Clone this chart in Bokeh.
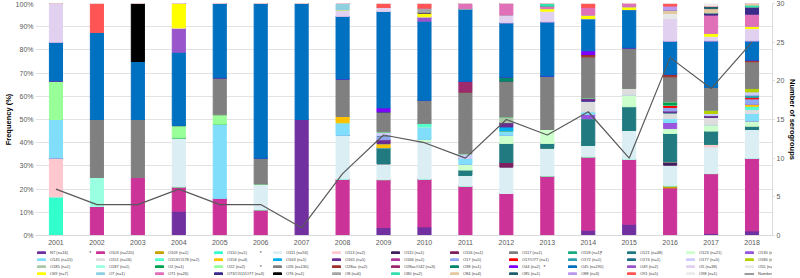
from bokeh.plotting import figure
from bokeh.layouts import column
from bokeh.models import (Range1d, LinearAxis, FixedTicker, PrintfTickFormatter,
                          Legend, LegendItem, ColumnDataSource)
from bokeh.core.properties import value
from bokeh.embed import file_html
from bokeh.resources import INLINE

years = list(range(2001, 2019))

serogroups = ["NT", "O103", "O109", "O110", "O111", "O113", "O115", "O116", "O117", "O118",
              "O121", "O123", "O130", "O145", "O151", "O153/O178", "O156", "O163", "O165", "O166",
              "O17", "O17/O77", "O172", "O174", "O177", "O180", "O185", "O187", "O2", "O22",
              "O26", "O28ac", "O28ac/O42", "O38", "O44", "O45", "O49", "O5", "O55", "O69",
              "O7", "O71", "O73/O111/O77", "O76", "O8", "O80", "O84", "O85", "O88", "O91", "O98"]
isolates = [16, 220, 1, 1, 94, 2, 1, 1, 1, 1,
            48, 21, 3, 15, 16, 2, 4, 1, 5, 1,
            5, 1, 1, 1, 5, 3, 1, 1, 1, 2,
            130, 2, 3, 1, 2, 190, 2, 38, 3, 7,
            1, 26, 3, 1, 6, 2, 4, 1, 3, 5, 1]
starred = ["O103", "O111", "O121", "O145", "O26", "O45"]

# frequency (%) of each serogroup per year
y2001 = {"O110": 16.7, "O113": 16.7, "O145": 16.6, "O22": 16.7, "O45": 16.6, "O5": 16.7}
y2002 = {"O103": 12.5, "O187": 12.5, "O26": 25.0, "O45": 37.5, "O91": 12.5}
y2003 = {"O103": 25.0, "O26": 25.0, "O45": 25.0, "O76": 25.0}
y2004 = {"NT": 10.5, "O103": 10.5, "O111": 21.1, "O22": 5.3, "O45": 31.6, "O49": 10.5, "O69": 10.5}
y2005 = {"O103": 16.0, "O145": 32.0, "O22": 4.0, "O26": 16.0, "O45": 32.0}
y2006 = {"O103": 11.1, "O111": 11.1, "O26": 11.1, "O45": 66.7}
y2007 = {"NT": 50.0, "O45": 50.0}
y2008 = {"O103": 24.3, "O111": 18.9, "O145": 5.4, "O156": 2.7, "O26": 16.2, "O45": 27.0,
         "O5": 2.7, "O7": 2.8}
y2009 = {"NT": 3.4, "O103": 20.7, "O111": 6.9, "O121": 6.9, "O156": 1.7, "O165": 1.7, "O17": 1.7,
         "O177": 1.7, "O26": 8.6, "O44": 1.7, "O45": 41.6, "O5": 1.7, "O91": 1.7}
y2010 = {"NT": 3.7, "O103": 20.6, "O111": 16.2, "O123": 0.9, "O145": 5.4, "O153/O178": 1.5,
         "O26": 10.0, "O45": 34.1, "O49": 1.9, "O69": 1.7, "O8": 2.0, "O91": 2.0}
y2011 = {"O103": 21.3, "O111": 4.7, "O121": 2.2, "O123": 2.5, "O145": 2.5, "O177": 2.1,
         "O26": 26.6, "O28ac/O42": 4.6, "O45": 31.3, "O71": 2.2}
y2012 = {"O103": 18.1, "O111": 11.5, "O116": 1.9, "O121": 8.2, "O123": 3.5, "O145": 1.8,
         "O163": 1.8, "O165": 1.9, "O185": 2.4, "O26": 15.4, "O38": 1.9, "O45": 23.3, "O5": 3.3,
         "O71": 5.0}
y2013 = {"O103": 25.7, "O111": 12.1, "O121": 1.9, "O123": 6.0, "O26": 23.0, "O45": 23.4,
         "O5": 4.6, "O69": 1.1, "O71": 1.1, "O80": 1.1}
y2014 = {"NT": 2.3, "O103": 31.6, "O111": 5.0, "O121": 11.5, "O130": 1.8, "O145": 1.1,
         "O151": 4.6, "O165": 1.4, "O26": 17.7, "O28ac": 1.0, "O44": 1.6, "O45": 13.9,
         "O69": 1.5, "O71": 3.3, "O91": 1.7}
y2015 = {"NT": 4.9, "O103": 28.0, "O111": 12.5, "O121": 10.1, "O123": 5.0, "O151": 2.9,
         "O26": 17.5, "O45": 16.5, "O69": 1.2, "O71": 1.4}
y2016 = {"O103": 20.5, "O109": 0.9, "O111": 8.9, "O115": 1.2, "O117": 0.5, "O121": 12.0,
         "O123": 2.1, "O130": 2.6, "O145": 1.7, "O151": 2.5, "O165": 0.8, "O17": 1.5,
         "O17/O77": 1.0, "O2": 1.4, "O26": 10.8, "O28ac": 1.1, "O45": 14.3, "O5": 9.7,
         "O55": 2.2, "O84": 1.4, "O88": 1.8, "O91": 1.1}
y2017 = {"NT": 0.9, "O103": 25.8, "O111": 11.5, "O113": 1.2, "O121": 5.6, "O123": 2.8,
         "O151": 3.1, "O165": 0.8, "O177": 0.9, "O180": 1.4, "O26": 9.8, "O45": 20.1, "O5": 2.0,
         "O69": 1.2, "O71": 7.9, "O73/O111/O77": 1.0, "O84": 1.8, "O85": 1.1, "O98": 1.1}
y2018 = {"NT": 2.0, "O103": 31.3, "O111": 12.4, "O121": 1.4, "O123": 2.3, "O145": 3.2,
         "O151": 1.7, "O153/O178": 1.4, "O156": 0.9, "O17": 2.3, "O17/O77": 0.6, "O172": 1.0,
         "O177": 1.4, "O180": 1.5, "O26": 11.5, "O28ac": 0.7, "O45": 8.3, "O5": 5.3, "O69": 1.0,
         "O71": 5.2, "O73/O111/O77": 3.1, "O80": 0.8, "O84": 0.7}

num_serogroups = [6, 4, 4, 6, 4, 4, 1, 8, 13, 12, 10, 15, 13, 16, 10, 23, 19, 25]

colors = ["#7030A0", "#CC3399", "#C8A000", "#33FFCC", "#DAEEF3", "#FFC7CE", "#3F1F5F", "#7F1F5F",
          "#808080", "#1AAA80", "#217A80", "#CCFFCC", "#9955DD", "#80DEFA", "#DDDDDD", "#55FFCC",
          "#FFC000", "#00B0F0", "#6A2C91", "#B3379B", "#8EA9F2", "#FF0000", "#30A0B0", "#1F6F8A",
          "#CCCCFF", "#B5D000", "#A8C8A8", "#99FFE0", "#00A050", "#99FF99", "#808080", "#A0302A",
          "#9E2A6E", "#00876B", "#7F00FF", "#0070C0", "#9955CC", "#E1D0F0", "#E8E8E8", "#FFFF00",
          "#8ED0E0", "#E070B8", "#3A2A8A", "#000000", "#A6A6A6", "#33E0B0", "#E6C8A0", "#1F6070",
          "#BB99EE", "#FF5555", "#EBEBEB"]
line_color = "#595959"

by_year = [y2001, y2002, y2003, y2004, y2005, y2006, y2007, y2008, y2009, y2010,
           y2011, y2012, y2013, y2014, y2015, y2016, y2017, y2018]

keys = ["s%d" % i for i in range(len(serogroups))]
data = {"x": years, "n": num_serogroups}
for k, name in zip(keys, serogroups):
    data[k] = [yr.get(name, 0.0) for yr in by_year]
source = ColumnDataSource(data)

FONT = "Liberation Sans"
FL, FR = 34, 774          # chart frame left / right edge in page pixels
p = figure(width=800, height=248, output_backend="svg", toolbar_location=None,
           x_range=Range1d(2000.5, 2018.5), y_range=Range1d(0, 100),
           min_border_left=FL, min_border_right=800 - FR, min_border_top=3, min_border_bottom=13)
p.outline_line_color = None
p.xgrid.grid_line_color = None
p.ygrid.grid_line_color = "#E3E3E3"
p.ygrid.ticker = FixedTicker(ticks=list(range(0, 101, 10)))
p.extra_y_ranges = {"right": Range1d(0, 30)}

bars = p.vbar_stack(keys, x="x", width=0.32, color=colors, source=source)
p.line(x="x", y="n", y_range_name="right", color=line_color, line_width=1.2, source=source)

xa = p.xaxis[0]
xa.ticker = FixedTicker(ticks=years)
xa.major_label_text_font = FONT
xa.major_label_text_font_size = "7px"
xa.major_label_text_color = "#595959"
xa.axis_line_color = "#D9D9D9"
xa.major_tick_line_color = None
xa.minor_tick_line_color = None
xa.major_tick_out = 0
xa.major_tick_in = 0
xa.minor_tick_out = 0
xa.major_label_standoff = 4

ya = p.yaxis[0]
ya.ticker = FixedTicker(ticks=list(range(0, 101, 10)))
ya.formatter = PrintfTickFormatter(format="%d%%")
ya.major_label_text_font = FONT
ya.major_label_text_font_size = "7px"
ya.major_label_text_color = "#595959"
ya.axis_line_color = None
ya.major_tick_line_color = None
ya.minor_tick_line_color = None
ya.major_tick_out = 0
ya.major_tick_in = 0
ya.minor_tick_out = 0
ya.major_label_standoff = 2
ya.axis_label = "Frequency (%)"
ya.axis_label_text_font = FONT
ya.axis_label_text_font_size = "7.5px"
ya.axis_label_text_font_style = "bold"
ya.axis_label_text_color = "#000000"
ya.axis_label_standoff = 0

ra = LinearAxis(y_range_name="right", ticker=FixedTicker(ticks=list(range(0, 31, 5))))
ra.major_label_text_font = FONT
ra.major_label_text_font_size = "7px"
ra.major_label_text_color = "#595959"
ra.axis_line_color = "#D9D9D9"
ra.major_tick_line_color = "#D9D9D9"
ra.major_tick_out = 2
ra.major_tick_in = 0
ra.minor_tick_out = 0
ra.minor_tick_line_color = None
ra.major_label_standoff = 2
ra.axis_label = "Number of serogroups"
ra.axis_label_text_font = FONT
ra.axis_label_text_font_size = "7.5px"
ra.axis_label_text_font_style = "bold"
ra.axis_label_text_color = "#000000"
ra.axis_label_standoff = 1
p.add_layout(ra, "right")

# legend strip (4 rows x 13 columns) in its own small figure; frame starts at FL
# and runs to the page edge, so its x units are pixels measured from FL
LH = 30
q = figure(width=800, height=LH, output_backend="svg", toolbar_location=None,
           x_range=Range1d(0, 800 - FL), y_range=Range1d(0, LH), min_border=0,
           min_border_left=FL, min_border_right=0,
           x_axis_location=None, y_axis_location=None)
q.grid.visible = False
q.outline_line_color = None

items = []
for name, n, c in zip(serogroups, isolates, colors):
    r = q.vbar(x=[-100], top=[0], width=1, color=c)
    items.append(LegendItem(label="%s (n=%d)" % (name, n), renderers=[r]))
rl = q.line(x=[-100, -99], y=[0, 0], color=line_color, line_width=1.2)
items.append(LegendItem(label="Number of serogroups", renderers=[rl]))

NROWS, NCOLS = 4, 13
ordered = []
for c in range(NCOLS):
    for r in range(NROWS):
        idx = r * NCOLS + c
        if idx < len(items):
            ordered.append(items[idx])

GW, STAND, LW = 10, 4, 45
COLW = GW + STAND + LW
ROWH = 7
X0 = 35 - FL
legend = Legend(items=ordered, orientation="vertical", nrows=NROWS,
                location=(X0, LH - 4 * ROWH - 1),
                label_text_font=FONT, label_text_font_size="4px", label_text_color="#404040",
                glyph_width=GW, glyph_height=3, label_width=LW, label_height=ROWH,
                label_standoff=STAND, spacing=0, padding=0, margin=0,
                border_line_color=None, background_fill_alpha=0)
q.add_layout(legend, "center")

# asterisks in front of the starred serogroups
sx, sy = [], []
for i, name in enumerate(serogroups):
    if name in starred:
        r, c = divmod(i, NCOLS)
        sx.append(X0 + c * COLW - 2)
        sy.append(LH - 1 - (r + 0.5) * ROWH)
q.text(x=sx, y=sy, text=["*"] * len(sx), text_font=value(FONT), text_font_size="5px",
       text_align="right", text_baseline="middle", text_color="#404040")

open("out.html", "w").write(file_html(column(p, q, spacing=0), INLINE))
